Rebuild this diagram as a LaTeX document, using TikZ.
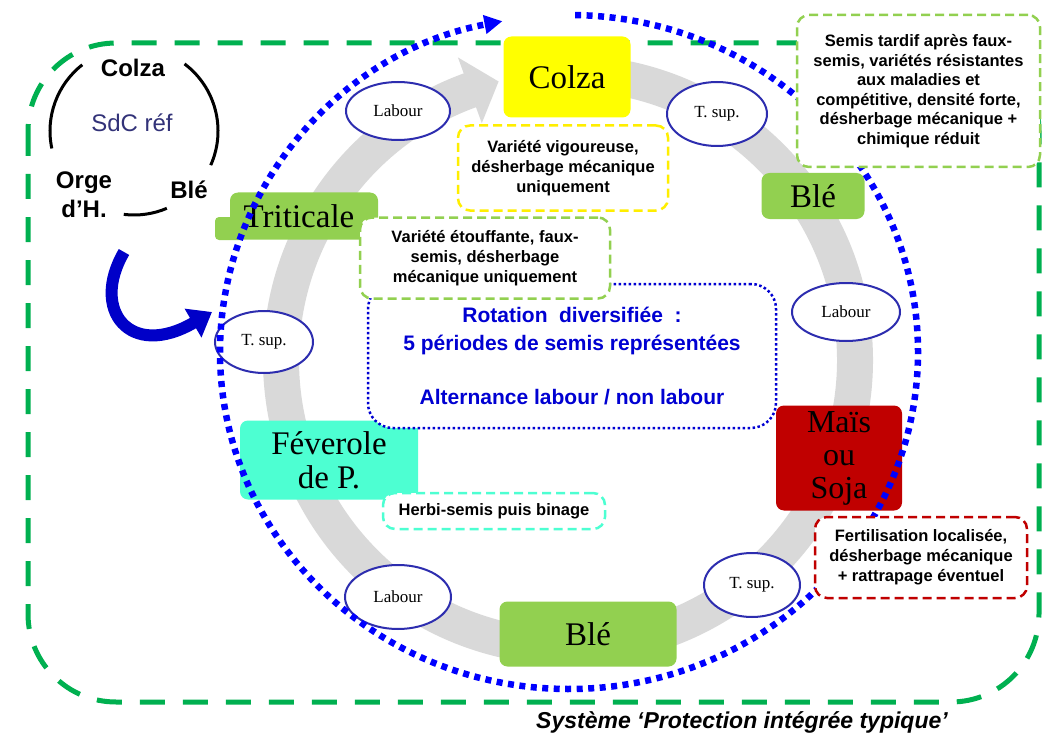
\documentclass[tikz,border=0pt]{standalone}
\usepackage{fontspec}
\setmainfont{Liberation Serif}
\setsansfont{Liberation Sans}
\usetikzlibrary{shapes.geometric,arrows.meta}
\definecolor{outergreen}{RGB}{0,176,80}
\definecolor{lgreen}{RGB}{146,208,80}
\definecolor{cropyellow}{RGB}{255,255,0}
\definecolor{noteyellow}{RGB}{255,238,0}
\definecolor{aqua}{RGB}{77,255,210}
\definecolor{darkred}{RGB}{192,0,0}
\definecolor{bandgray}{RGB}{217,217,217}
\definecolor{ellborder}{RGB}{45,45,175}
\definecolor{dotblue}{RGB}{0,0,255}
\definecolor{textblue}{RGB}{0,0,210}
\definecolor{navytext}{RGB}{50,50,120}
\definecolor{arrowblue}{RGB}{0,0,200}
\tikzset{
  crop/.style={rounded corners=8pt, inner sep=0pt, align=center,
    font=\fontsize{33}{35}\selectfont},
  oval/.style={ellipse, draw=ellborder, line width=2pt, fill=white, inner sep=0pt,
    font=\fontsize{17}{19}\selectfont},
  note/.style={rounded corners=12pt, fill=white, line width=2.5pt,
    dash pattern=on 9pt off 5pt, align=center, inner sep=0pt,
    font=\sffamily\bfseries\fontsize{16.5}{20}\selectfont},
  mini/.style={align=center, inner sep=0pt,
    font=\sffamily\bfseries\fontsize{24}{29}\selectfont},
}
\begin{document}
\begin{tikzpicture}[x=1pt,y=-1pt]
\useasboundingbox (0,0) rectangle (1042,741);

% outer green dashed frame
\draw[outergreen, line width=5pt, dash pattern=on 25pt off 18pt, rounded corners=88pt]
  (28,43) rectangle (1039,702);

% grey circular arrow band
\draw[bandgray, line width=36pt] (568,360) ++(-95:287) arc[start angle=-95, end angle=250.5, radius=287];
\fill[bandgray] (457.9,57.4) -- (498.6,81.5) -- (481.8,123.2) -- cycle;

% crop boxes
\node[crop, fill=cropyellow, minimum width=127pt, minimum height=81pt] (colza) at (567,77) {Colza};
\fill[lgreen, rounded corners=4pt] (215,217) rectangle (245,240);
\node[crop, fill=lgreen, minimum width=148pt, minimum height=47pt] (triticale) at (304,216) {\hspace*{-10pt}Triticale};
\node[crop, fill=lgreen, minimum width=103pt, minimum height=46pt] (ble1) at (813,196) {Blé};
\node[crop, fill=darkred, minimum width=126pt, minimum height=105pt,
  font=\fontsize{32}{33}\selectfont] (mais) at (839,458) {Maïs\\ou\\Soja};
\node[crop, fill=aqua, minimum width=178pt, minimum height=79pt,
  font=\fontsize{33}{34}\selectfont] (feverole) at (329,460) {Féverole\\de P.};
\node[crop, fill=lgreen, minimum width=177pt, minimum height=65pt] (ble2) at (588,634) {Blé};

% ellipses
\node[oval, minimum width=104pt, minimum height=58pt] (lab1) at (398,111) {Labour};
\node[oval, minimum width=100pt, minimum height=64pt] (tsup1) at (717,114) {T. sup.};
\node[oval, minimum width=108pt, minimum height=58pt] (lab2) at (846,312) {Labour};
\node[oval, minimum width=98pt, minimum height=62pt] (tsup2) at (264,342) {T. sup.};
\node[oval, minimum width=106pt, minimum height=64pt] (lab3) at (398,597) {Labour};
\node[oval, minimum width=96pt, minimum height=64pt] (tsup3) at (752,585) {T. sup.};

% blue dotted rotation circle
\draw[dotblue, line width=6.5pt, dash pattern=on 6pt off 5.5pt, -{Triangle[length=18pt,width=18pt]}]
  (569,352) ++(271:349 and 337) arc[start angle=271, end angle=619, x radius=349, y radius=337];

% centre box
\node[draw=textblue, line width=2.5pt, dash pattern=on 2.5pt off 2.5pt, rounded corners=25pt,
  fill=white, minimum width=408pt, minimum height=144pt, align=center, text=textblue,
  font=\sffamily\bfseries\fontsize{21}{28}\selectfont] (centre) at (572,356)
  {\spaceskip=0.55em plus 0.1em\relax Rotation diversifiée :\\5 périodes de semis représentées\\[26pt]Alternance labour / non labour};

% notes
\node[note, draw=noteyellow, minimum width=210pt, minimum height=85pt] (n1) at (563,168)
  {Variété vigoureuse,\\désherbage mécanique\\uniquement};
\node[note, draw=lgreen, minimum width=250pt, minimum height=81pt] (n2) at (485,258)
  {Variété étouffante, faux-\\semis, désherbage\\mécanique uniquement};
\node[note, draw=lgreen, minimum width=243pt, minimum height=152pt,
  font=\sffamily\bfseries\fontsize{16.5}{19.5}\selectfont] (n3) at (918.5,91)
  {Semis tardif après faux-\\semis, variétés résistantes\\aux maladies et\\compétitive, densité forte,\\désherbage mécanique +\\chimique réduit};
\node[note, draw=aqua, minimum width=222pt, minimum height=36pt] (n4) at (494,511)
  {Herbi-semis puis binage};
\node[note, draw=darkred, minimum width=212pt, minimum height=81pt] (n5) at (921,557.5)
  {Fertilisation localisée,\\désherbage mécanique\\+ rattrapage éventuel};

% mini reference rotation
\node[mini] (mcolza) at (133,68) {Colza};
\node[mini, font=\sffamily\fontsize{24}{29}\selectfont, text=navytext] (sdc) at (132,123) {SdC réf};
\node[mini] (morge) at (84,195) {Orge\\d’H.};
\node[mini] (mble) at (189,190) {Blé};
\draw[black, line width=3pt] (134,131) ++(168:84) arc[start angle=168, end angle=232, radius=84];
\draw[black, line width=3pt] (134,131) ++(-53:84) arc[start angle=-53, end angle=24, radius=84];
\draw[black, line width=3pt] (134,131) ++(67:84) arc[start angle=67, end angle=97, radius=84];

% curved blue arrow to rotation
\coordinate (ca) at (124,252);
\coordinate (cb) at (212,312);
\draw[arrowblue, line width=12pt, -{Triangle[length=22pt,width=32pt]}]
  (ca) .. controls (90,310) and (130,360) .. (cb);

% caption
\node[inner sep=0pt, font=\sffamily\bfseries\itshape\fontsize{23}{26}\selectfont] (caption) at (742,722)
  {Système ‘Protection intégrée typique’};
\end{tikzpicture}
\end{document}
